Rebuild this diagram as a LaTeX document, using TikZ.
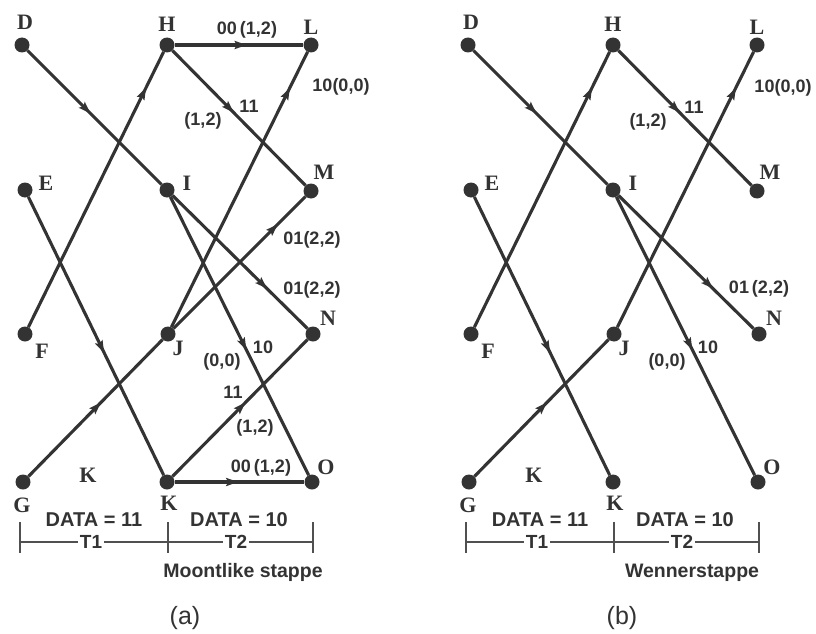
\documentclass[tikz,border=0pt]{standalone}
\usepackage{fontspec}
\setmainfont{Liberation Serif}
\newfontfamily\labelsans{Liberation Sans}
\usetikzlibrary{arrows.meta,decorations.markings}

\definecolor{ink}{HTML}{333333}
\definecolor{rule}{HTML}{505050}

\tikzset{
  state/.style={circle,fill=ink,minimum size=15pt,inner sep=0pt},
  letter/.style={font=\fontsize{22}{22}\selectfont\bfseries,text=ink,inner sep=0pt},
  branch/.style={draw=ink,line width=3.1pt},
  flow/.style={branch,postaction={decorate,decoration={markings,
      mark=at position #1 with {\arrow{Stealth[length=12pt,width=8pt,inset=2pt,color=ink]}}}}},
  metric/.style={font=\labelsans\fontsize{18}{18}\selectfont\bfseries,text=ink,inner sep=0pt},
  datalabel/.style={font=\labelsans\fontsize{20}{20}\selectfont\bfseries,text=ink,inner sep=0pt},
  period/.style={font=\labelsans\fontsize{19}{19}\selectfont\bfseries,text=ink,fill=white,inner sep=1.5pt},
  caption/.style={font=\labelsans\fontsize{19.5}{19.5}\selectfont\bfseries,text=ink,inner sep=0pt},
  panel/.style={font=\labelsans\fontsize{25}{25}\selectfont,text=ink,inner sep=0pt},
  axis/.style={draw=rule,line width=1.5pt},
}

% States, their letters and the time axis shared by both trellises
\newcommand\trellisstates{%
  \node[state] (D) at (22,45) {};
  \node[state] (H) at (167,45) {};
  \node[state] (L) at (311,45) {};
  \node[state] (E) at (25,190) {};
  \node[state] (I) at (167,190) {};
  \node[state] (M) at (311,191) {};
  \node[state] (F) at (25,334) {};
  \node[state] (J) at (168,334) {};
  \node[state] (N) at (313,334) {};
  \node[state] (G) at (23,482) {};
  \node[state] (K) at (167,482) {};
  \node[state] (O) at (312,482) {};
  \node[letter] (D-l) at (25,22) {D};
  \node[letter] (H-l) at (167,24) {H};
  \node[letter] (L-l) at (311,27) {L};
  \node[letter] (E-l) at (46,183) {E};
  \node[letter] (I-l) at (187,183) {I};
  \node[letter] (M-l) at (324,172) {M};
  \node[letter] (F-l) at (42,351) {F};
  \node[letter] (J-l) at (178,348) {J};
  \node[letter] (N-l) at (328,318) {N};
  \node[letter] (G-l) at (22,505) {G};
  \node[letter] (K-l) at (169,503) {K};
  \node[letter] (K-m) at (88,475) {K};
  \node[letter] (O-l) at (326,467) {O};
  \coordinate (ax0) at (20,542);
  \coordinate (ax1) at (168,542);
  \coordinate (ax2) at (313,542);
  \draw[axis] (ax0) -- (ax2);
  \foreach \t in {ax0,ax1,ax2}{\draw[axis] ([yshift=20pt]\t) -- ([yshift=-11pt]\t);}
  \node[period] (T1) at (91,542) {T1};
  \node[period] (T2) at (236,542) {T2};
  \node[datalabel] (data1) at (94,520) {DATA = 11};
  \node[datalabel] (data2) at (239,520) {DATA = 10};
}

\begin{document}
\begin{tikzpicture}[x=1pt,y=-1pt]
\useasboundingbox[fill=white] (0,0) rectangle (816,634);

% (a) all surviving and candidate branches
\begin{scope}[name prefix=a-]
  \trellisstates
  \draw[flow=0.47] (D) -- (I);
  \draw[flow=0.87] (F) -- (H);
  \draw[flow=0.56] (E) -- (K);
  \draw[flow=0.54] (G) -- (J);
  \draw[flow=0.56] (H) -- (L);
  \draw[flow=0.46] (H) -- (M);
  \draw[flow=0.87] (J) -- (L);
  \draw[flow=0.79] (J) -- (M);
  \draw[flow=0.70] (I) -- (N);
  \draw[flow=0.55] (I) -- (O);
  \draw[flow=0.54] (K) -- (N);
  \draw[flow=0.49] (K) -- (O);
  \node[metric] (m1) at (247,30) {00\,(1,2)};
  \node[metric] (m2) at (341,87) {10(0,0)};
  \node[metric] (m3) at (249,106) {11};
  \node[metric] (m4) at (203,121) {(1,2)};
  \node[metric] (m5) at (312,240) {01(2,2)};
  \node[metric] (m6) at (312,290) {01(2,2)};
  \node[metric] (m7) at (263,347) {10};
  \node[metric] (m8) at (222,362) {(0,0)};
  \node[metric] (m9) at (233,392) {11};
  \node[metric] (m10) at (255,428) {(1,2)};
  \node[metric] (m11) at (261,468) {00\,(1,2)};
  \node[caption] (cap) at (243,572) {Moontlike stappe};
  \node[panel] (tag) at (185,618) {(a)};
\end{scope}

% (b) surviving branches only
\begin{scope}[xshift=446pt,name prefix=b-]
  \trellisstates
  \draw[flow=0.47] (D) -- (I);
  \draw[flow=0.87] (F) -- (H);
  \draw[flow=0.56] (E) -- (K);
  \draw[flow=0.54] (G) -- (J);
  \draw[flow=0.46] (H) -- (M);
  \draw[flow=0.87] (J) -- (L);
  \draw[flow=0.70] (I) -- (N);
  \draw[flow=0.55] (I) -- (O);
  \node[metric] (m2) at (337,88) {10(0,0)};
  \node[metric] (m3) at (248,107) {11};
  \node[metric] (m4) at (202,122) {(1,2)};
  \node[metric] (m6) at (313,289) {01\,(2,2)};
  \node[metric] (m7) at (262,347) {10};
  \node[metric] (m8) at (221,362) {(0,0)};
  \node[caption] (cap) at (246,573) {Wennerstappe};
  \node[panel] (tag) at (176,618) {(b)};
\end{scope}
\end{tikzpicture}
\end{document}
